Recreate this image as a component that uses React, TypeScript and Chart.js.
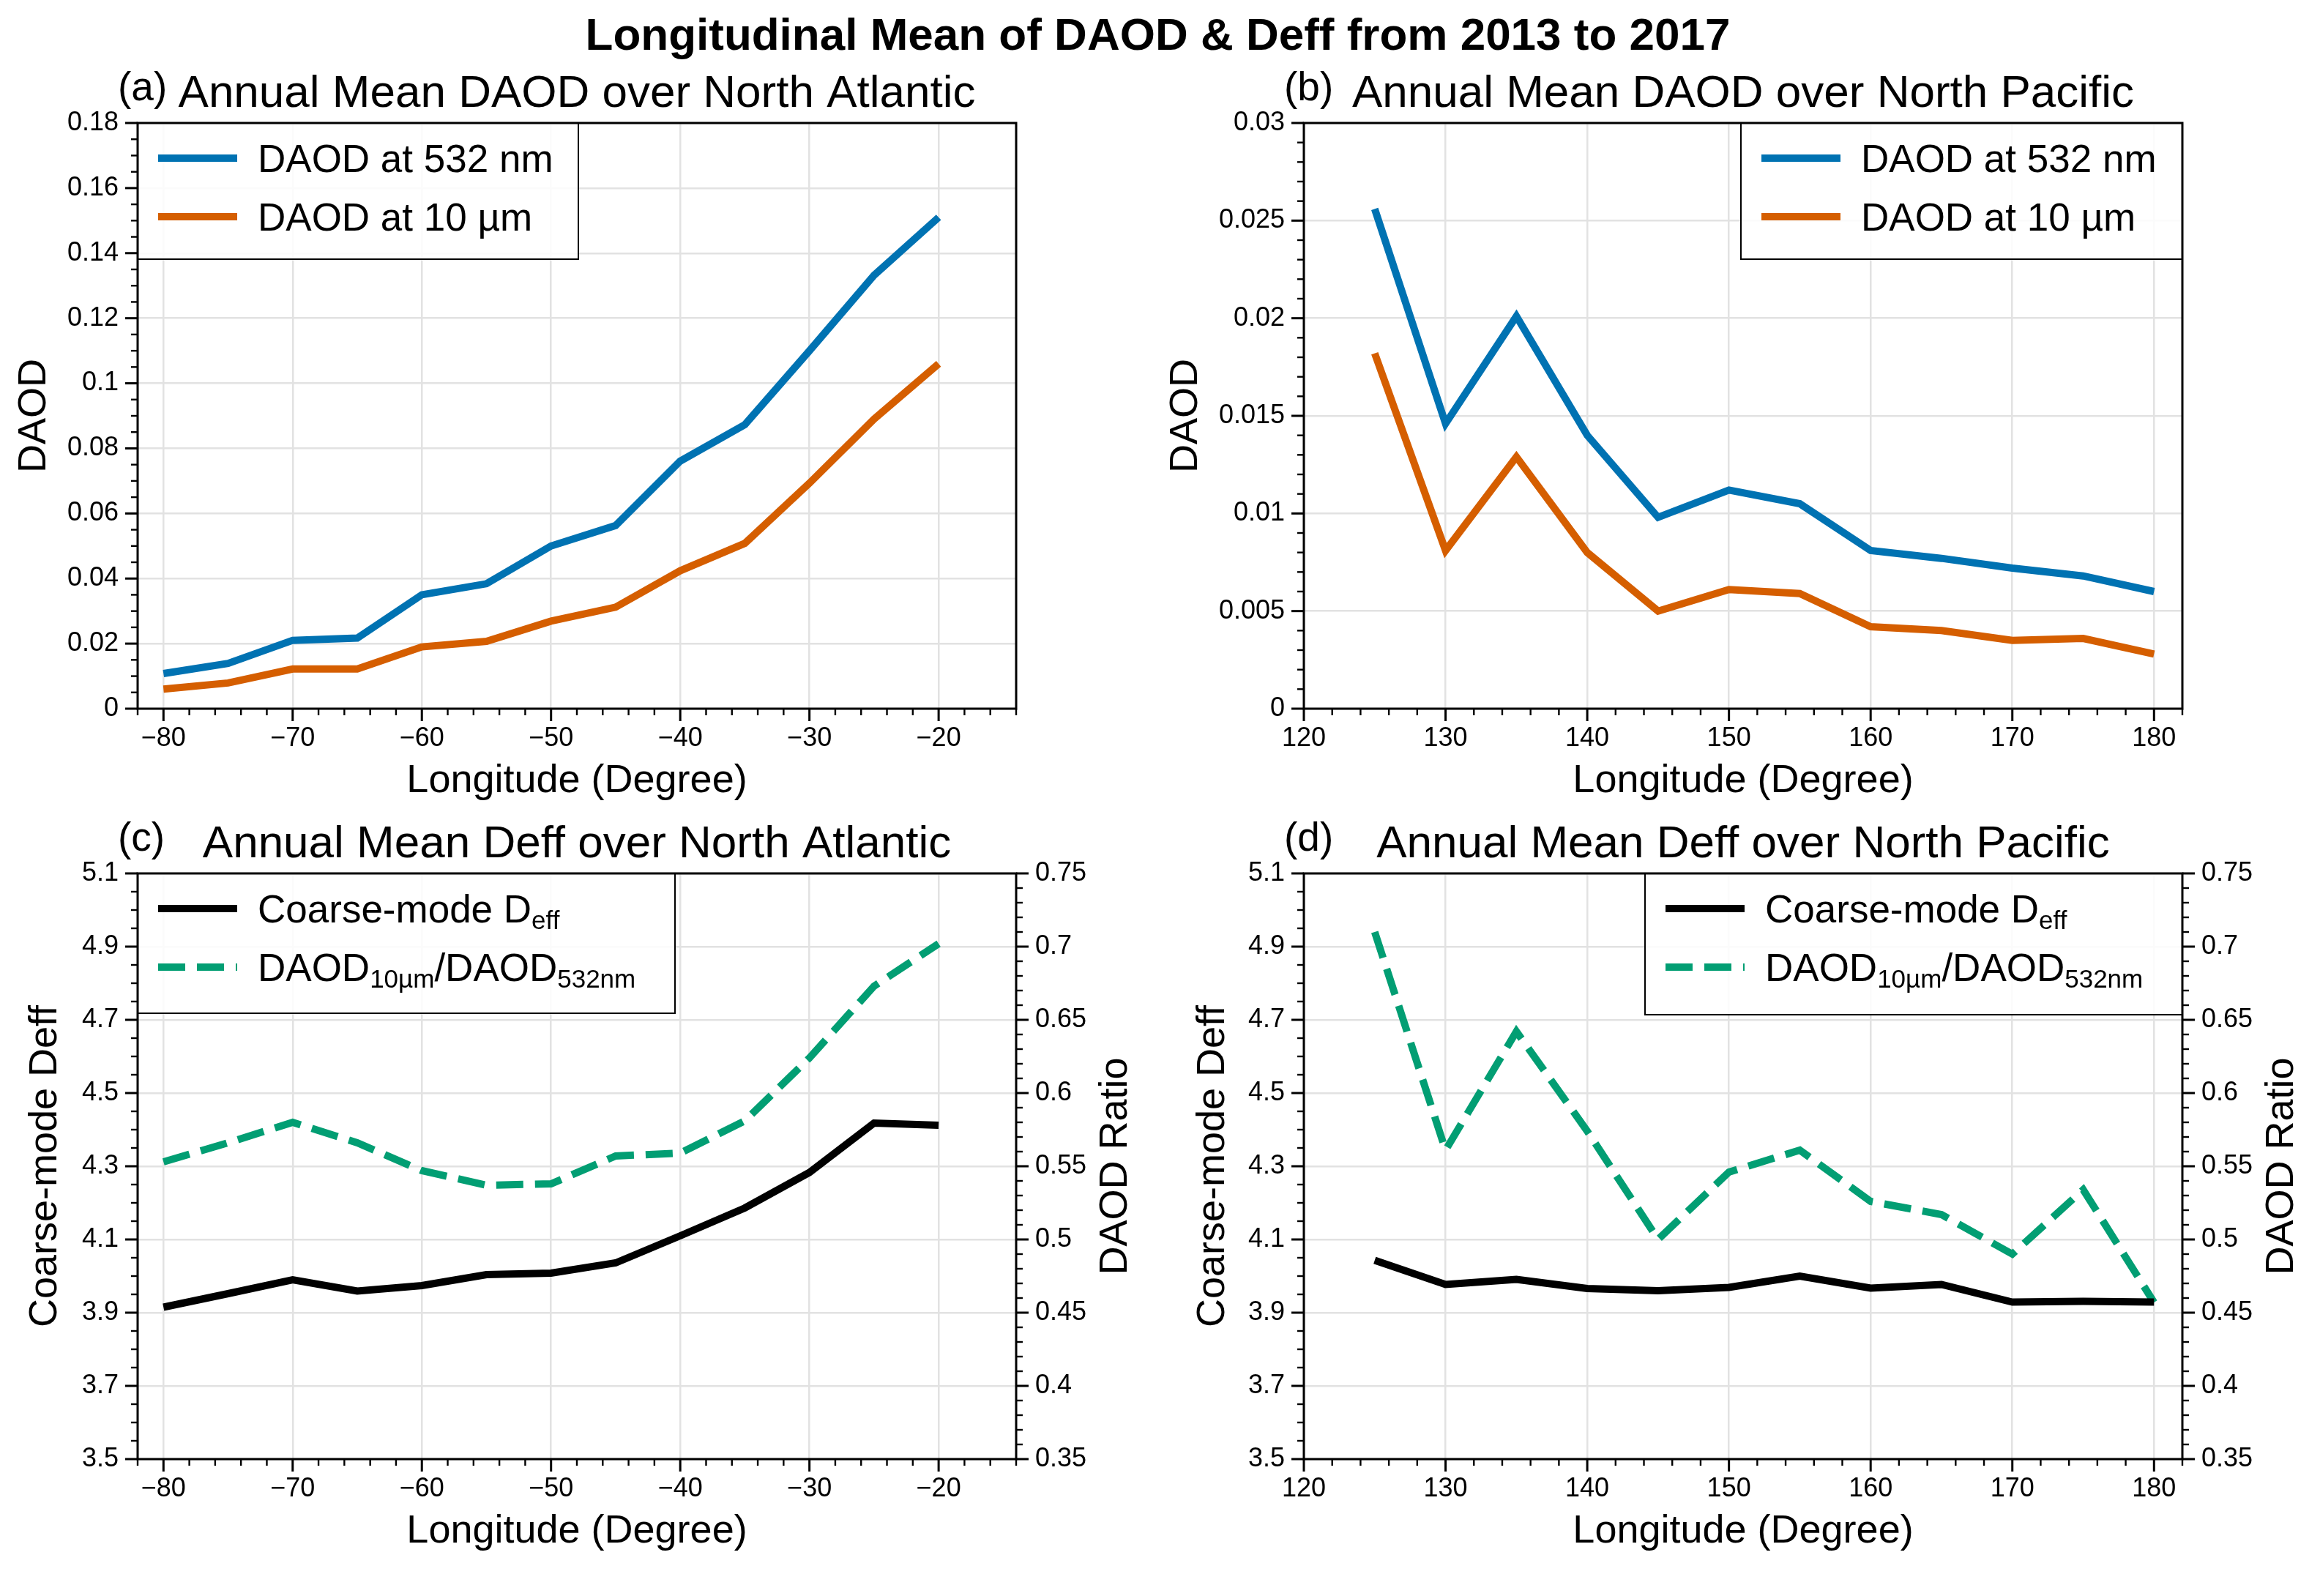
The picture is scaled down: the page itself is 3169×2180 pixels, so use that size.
import React, { useEffect, useRef } from 'react';
import { Chart, registerables } from 'chart.js';
Chart.register(...registerables);

const FONT = "'Liberation Sans', Arial, Helvetica, sans-serif";

// ---------- data ----------
const LON_ATL = [-80, -75, -70, -65, -60, -55, -50, -45, -40, -35, -30, -25, -20];
const LON_PAC = [125, 130, 135, 140, 145, 150, 155, 160, 165, 170, 175, 180];

const DAOD532_ATL = [0.0108, 0.0139, 0.0210, 0.0217, 0.0350, 0.0384, 0.0500, 0.0563, 0.0761, 0.0873, 0.1100, 0.1332, 0.1510];
const DAOD10_ATL = [0.0060, 0.0079, 0.0122, 0.0122, 0.0190, 0.0207, 0.0269, 0.0312, 0.0424, 0.0508, 0.0693, 0.0890, 0.1060];

const DAOD532_PAC = [0.0256, 0.0146, 0.0201, 0.0140, 0.0098, 0.0112, 0.0105, 0.0081, 0.0077, 0.0072, 0.0068, 0.0060];
const DAOD10_PAC = [0.0182, 0.0081, 0.0129, 0.0080, 0.0050, 0.0061, 0.0059, 0.0042, 0.0040, 0.0035, 0.0036, 0.0028];

const DEFF_ATL = [3.915, 3.952, 3.990, 3.959, 3.974, 4.004, 4.008, 4.036, 4.110, 4.186, 4.283, 4.418, 4.412];
const RATIO_ATL = [0.553, 0.566, 0.580, 0.566, 0.547, 0.537, 0.538, 0.557, 0.559, 0.581, 0.624, 0.673, 0.702];

const DEFF_PAC = [4.043, 3.977, 3.991, 3.966, 3.960, 3.969, 4.000, 3.967, 3.977, 3.929, 3.931, 3.929];
const RATIO_PAC = [0.710, 0.561, 0.642, 0.574, 0.500, 0.546, 0.561, 0.526, 0.517, 0.490, 0.534, 0.457];

// ---------- ticks ----------
const XTICKS_ATL = [-80, -70, -60, -50, -40, -30, -20];
const XLABELS_ATL = ['\u221280', '\u221270', '\u221260', '\u221250', '\u221240', '\u221230', '\u221220'];
const XTICKS_PAC = [120, 130, 140, 150, 160, 170, 180];
const XLABELS_PAC = ['120', '130', '140', '150', '160', '170', '180'];

const YTICKS_DAOD_ATL = [0, 0.02, 0.04, 0.06, 0.08, 0.1, 0.12, 0.14, 0.16, 0.18];
const YLABELS_DAOD_ATL = ['0', '0.02', '0.04', '0.06', '0.08', '0.1', '0.12', '0.14', '0.16', '0.18'];
const YTICKS_DAOD_PAC = [0, 0.005, 0.01, 0.015, 0.02, 0.025, 0.03];
const YLABELS_DAOD_PAC = ['0', '0.005', '0.01', '0.015', '0.02', '0.025', '0.03'];
const YTICKS_DEFF = [3.5, 3.7, 3.9, 4.1, 4.3, 4.5, 4.7, 4.9, 5.1];
const YLABELS_DEFF = ['3.5', '3.7', '3.9', '4.1', '4.3', '4.5', '4.7', '4.9', '5.1'];
const YTICKS_RATIO = [0.35, 0.4, 0.45, 0.5, 0.55, 0.6, 0.65, 0.7, 0.75];
const YLABELS_RATIO = ['0.35', '0.4', '0.45', '0.5', '0.55', '0.6', '0.65', '0.7', '0.75'];

// ---------- text ----------
const SUPTITLE = 'Longitudinal Mean of DAOD & Deff from 2013 to 2017';
const TITLES = [
  'Annual Mean DAOD over North Atlantic',
  'Annual Mean DAOD over North Pacific',
  'Annual Mean Deff over North Atlantic',
  'Annual Mean Deff over North Pacific',
];
const ABC = ['(a)', '(b)', '(c)', '(d)'];
const XTITLE = 'Longitude (Degree)';
type Seg = { t: string; sub?: boolean };
const LEG_532: Seg[] = [{ t: 'DAOD at 532 nm' }];
const LEG_10: Seg[] = [{ t: 'DAOD at 10 \u00b5m' }];
const LEG_DEFF: Seg[] = [{ t: 'Coarse-mode D' }, { t: 'eff', sub: true }];
const LEG_RATIO: Seg[] = [{ t: 'DAOD' }, { t: '10\u00b5m', sub: true }, { t: '/DAOD' }, { t: '532nm', sub: true }];

const BLUE = '#0072B2';
const ORANGE = '#D55E00';
const GREEN = '#029E73';
const BLACK = '#000000';
const DASH = [37, 16];

interface Series { xs: number[]; ys: number[]; color: string; dash?: number[]; axis: 'y' | 'y2'; legend: Seg[] }
interface AxisDef { min: number; max: number; ticks: number[]; labels: string[]; minor: number; title?: string; titlePad?: number }
interface PanelDef {
  idx: number;
  x: number; y: number; w: number; h: number;
  area: { L: number; T: number; R: number; B: number };
  xa: AxisDef; ya: AxisDef; y2?: AxisDef;
  series: Series[];
  legend: { align: 'left' | 'right'; w: number; h: number };
}

const PANELS: PanelDef[] = [
  {
    idx: 0, x: 0, y: 0, w: 1584, h: 1100,
    area: { L: 188, T: 168, R: 1388, B: 968 },
    xa: { min: -82, max: -14, ticks: XTICKS_ATL, labels: XLABELS_ATL, minor: 2 },
    ya: { min: 0, max: 0.18, ticks: YTICKS_DAOD_ATL, labels: YLABELS_DAOD_ATL, minor: 0.005, title: 'DAOD', titlePad: 15 },
    series: [
      { xs: LON_ATL, ys: DAOD532_ATL, color: BLUE, axis: 'y', legend: LEG_532 },
      { xs: LON_ATL, ys: DAOD10_ATL, color: ORANGE, axis: 'y', legend: LEG_10 },
    ],
    legend: { align: 'left', w: 602, h: 186 },
  },
  {
    idx: 1, x: 1584, y: 0, w: 1585, h: 1100,
    area: { L: 197, T: 168, R: 1397, B: 968 },
    xa: { min: 120, max: 182, ticks: XTICKS_PAC, labels: XLABELS_PAC, minor: 2 },
    ya: { min: 0, max: 0.03, ticks: YTICKS_DAOD_PAC, labels: YLABELS_DAOD_PAC, minor: 0.001, title: 'DAOD', titlePad: 3.6 },
    series: [
      { xs: LON_PAC, ys: DAOD532_PAC, color: BLUE, axis: 'y', legend: LEG_532 },
      { xs: LON_PAC, ys: DAOD10_PAC, color: ORANGE, axis: 'y', legend: LEG_10 },
    ],
    legend: { align: 'right', w: 603, h: 186 },
  },
  {
    idx: 2, x: 0, y: 1100, w: 1584, h: 1080,
    area: { L: 188, T: 93, R: 1388, B: 893 },
    xa: { min: -82, max: -14, ticks: XTICKS_ATL, labels: XLABELS_ATL, minor: 2 },
    ya: { min: 3.5, max: 5.1, ticks: YTICKS_DEFF, labels: YLABELS_DEFF, minor: 0.05, title: 'Coarse-mode Deff', titlePad: 29.8 },
    y2: { min: 0.35, max: 0.75, ticks: YTICKS_RATIO, labels: YLABELS_RATIO, minor: 0.01, title: 'DAOD Ratio' },
    series: [
      { xs: LON_ATL, ys: DEFF_ATL, color: BLACK, axis: 'y', legend: LEG_DEFF },
      { xs: LON_ATL, ys: RATIO_ATL, color: GREEN, dash: DASH, axis: 'y2', legend: LEG_RATIO },
    ],
    legend: { align: 'left', w: 734, h: 191 },
  },
  {
    idx: 3, x: 1584, y: 1100, w: 1585, h: 1080,
    area: { L: 197, T: 93, R: 1397, B: 893 },
    xa: { min: 120, max: 182, ticks: XTICKS_PAC, labels: XLABELS_PAC, minor: 2 },
    ya: { min: 3.5, max: 5.1, ticks: YTICKS_DEFF, labels: YLABELS_DEFF, minor: 0.05, title: 'Coarse-mode Deff', titlePad: 40.6 },
    y2: { min: 0.35, max: 0.75, ticks: YTICKS_RATIO, labels: YLABELS_RATIO, minor: 0.01, title: 'DAOD Ratio' },
    series: [
      { xs: LON_PAC, ys: DEFF_PAC, color: BLACK, axis: 'y', legend: LEG_DEFF },
      { xs: LON_PAC, ys: RATIO_PAC, color: GREEN, dash: DASH, axis: 'y2', legend: LEG_RATIO },
    ],
    legend: { align: 'right', w: 734, h: 193 },
  },
];

const TICK_FONT = 36;
const LABEL_FONT = 54;
const TITLE_FONT = 62;
const ABC_FONT = 55;
const LEG_FONT = 53;
const SUB_FONT = 35;
const GRID_COLOR = '#e2e2e2';
const X_H = 131.4;
const Y2_W = 150;

function drawTicks(ctx: CanvasRenderingContext2D, scale: any, side: 'left' | 'right' | 'bottom', minor: number, area: any) {
  const majors: number[] = scale.ticks.map((t: any) => t.value);
  const seg = (v: number, len: number, lw: number) => {
    const p = scale.getPixelForValue(v);
    ctx.lineWidth = lw;
    ctx.beginPath();
    if (side === 'bottom') { ctx.moveTo(p, area.bottom); ctx.lineTo(p, area.bottom + len); }
    else if (side === 'left') { ctx.moveTo(area.left, p); ctx.lineTo(area.left - len, p); }
    else { ctx.moveTo(area.right, p); ctx.lineTo(area.right + len, p); }
    ctx.stroke();
  };
  const n = Math.round((scale.max - scale.min) / minor);
  for (let k = 0; k <= n; k++) {
    const v = scale.min + k * minor;
    if (majors.some((m) => Math.abs(m - v) < minor * 0.01)) continue;
    seg(v, 9, 2.4);
  }
  majors.forEach((m) => seg(m, 17, 3));
}

function drawSegs(ctx: CanvasRenderingContext2D, segs: Seg[], x: number, y: number) {
  let cx = x;
  segs.forEach((s) => {
    ctx.font = `${s.sub ? SUB_FONT : LEG_FONT}px ${FONT}`;
    ctx.fillText(s.t, cx, y + (s.sub ? 9 : 0));
    cx += ctx.measureText(s.t).width;
  });
}

function decorPlugin(p: PanelDef) {
  return {
    id: 'decor' + p.idx,
    afterDraw(chart: any) {
      const ctx: CanvasRenderingContext2D = chart.ctx;
      const area = chart.chartArea;
      const L = area.left, T = area.top, R = area.right, B = area.bottom;
      ctx.save();
      // legend
      const bx = p.legend.align === 'left' ? L : R - p.legend.w;
      const by = T;
      ctx.fillStyle = 'rgba(255,255,255,0.85)';
      ctx.fillRect(bx, by, p.legend.w, p.legend.h);
      ctx.strokeStyle = '#000';
      ctx.lineWidth = 2;
      ctx.setLineDash([]);
      ctx.strokeRect(bx, by, p.legend.w, p.legend.h);
      p.series.forEach((s, i) => {
        const cy = by + 48 + i * 80;
        ctx.strokeStyle = s.color;
        ctx.lineWidth = 10;
        ctx.lineCap = 'butt';
        ctx.setLineDash(s.dash || []);
        ctx.beginPath();
        ctx.moveTo(bx + 28, cy);
        ctx.lineTo(bx + 136, cy);
        ctx.stroke();
        ctx.setLineDash([]);
        ctx.fillStyle = '#000';
        ctx.textAlign = 'left';
        ctx.textBaseline = 'alphabetic';
        drawSegs(ctx, s.legend, bx + 164, cy + 19);
      });
      // frame
      ctx.setLineDash([]);
      ctx.strokeStyle = '#000';
      ctx.lineWidth = 3;
      ctx.strokeRect(L, T, R - L, B - T);
      // ticks
      drawTicks(ctx, chart.scales.x, 'bottom', p.xa.minor, area);
      drawTicks(ctx, chart.scales.y, 'left', p.ya.minor, area);
      if (p.y2) drawTicks(ctx, chart.scales.y2, 'right', p.y2.minor, area);
      // titles
      ctx.fillStyle = '#000';
      ctx.textBaseline = 'alphabetic';
      ctx.textAlign = 'center';
      ctx.font = `${TITLE_FONT}px ${FONT}`;
      ctx.fillText(TITLES[p.idx], (L + R) / 2, T - 22);
      ctx.textAlign = 'left';
      ctx.font = `${ABC_FONT}px ${FONT}`;
      ctx.fillText(ABC[p.idx], L - 27, T - 31);
      if (p.y2 && p.y2.title) {
        ctx.translate(R + 136, (T + B) / 2);
        ctx.rotate(-Math.PI / 2);
        ctx.textAlign = 'center';
        ctx.textBaseline = 'middle';
        ctx.font = `${LABEL_FONT}px ${FONT}`;
        ctx.fillText(p.y2.title, 0, 0);
      }
      ctx.restore();
    },
  };
}

function makeChart(canvas: HTMLCanvasElement, p: PanelDef) {
  const tickFont = { size: TICK_FONT, family: FONT };
  const scales: any = {
    x: {
      type: 'linear', position: 'bottom', min: p.xa.min, max: p.xa.max,
      afterBuildTicks: (s: any) => { s.ticks = p.xa.ticks.map((v) => ({ value: v })); },
      afterFit: (s: any) => { s.height = X_H; },
      grid: { color: GRID_COLOR, lineWidth: 2.5, drawTicks: false },
      border: { display: false },
      ticks: { font: tickFont, color: '#000', padding: 19, autoSkip: false, maxRotation: 0, callback: (_v: any, i: number) => p.xa.labels[i] },
      title: { display: true, text: XTITLE, color: '#000', font: { size: LABEL_FONT, family: FONT }, padding: { top: 0, bottom: 0 } },
    },
    y: {
      type: 'linear', position: 'left', min: p.ya.min, max: p.ya.max,
      afterBuildTicks: (s: any) => { s.ticks = p.ya.ticks.map((v) => ({ value: v })); },
      afterFit: (s: any) => { s.width = p.area.L; },
      grid: { color: GRID_COLOR, lineWidth: 2.5, drawTicks: false },
      border: { display: false },
      ticks: { font: tickFont, color: '#000', padding: 26, autoSkip: false, callback: (_v: any, i: number) => p.ya.labels[i] },
      title: { display: true, text: p.ya.title, color: '#000', font: { size: LABEL_FONT, family: FONT }, padding: { top: p.ya.titlePad || 0, bottom: 0 } },
    },
  };
  if (p.y2) {
    const y2 = p.y2;
    scales.y2 = {
      type: 'linear', position: 'right', min: y2.min, max: y2.max,
      afterBuildTicks: (s: any) => { s.ticks = y2.ticks.map((v) => ({ value: v })); },
      afterFit: (s: any) => { s.width = Y2_W; },
      grid: { display: false, drawTicks: false },
      border: { display: false },
      ticks: { font: tickFont, color: '#000', padding: 26, autoSkip: false, callback: (_v: any, i: number) => y2.labels[i] },
    };
  }
  const padding = {
    left: 0,
    top: p.area.T,
    right: p.w - p.area.R - (p.y2 ? Y2_W : 0),
    bottom: p.h - p.area.B - X_H,
  };
  return new Chart(canvas, {
    type: 'line',
    data: {
      datasets: p.series.map((s) => ({
        data: s.xs.map((x, i) => ({ x, y: s.ys[i] })),
        borderColor: s.color,
        backgroundColor: s.color,
        borderWidth: 10,
        borderDash: s.dash || [],
        borderCapStyle: 'butt',
        borderJoinStyle: 'miter',
        pointRadius: 0,
        tension: 0,
        fill: false,
        yAxisID: s.axis,
      })),
    },
    options: {
      responsive: false,
      animation: false,
      devicePixelRatio: 1,
      layout: { padding },
      plugins: { legend: { display: false }, tooltip: { enabled: false }, title: { display: false } },
      scales,
    } as any,
    plugins: [decorPlugin(p)],
  } as any);
}

function Panel({ p }: { p: PanelDef }) {
  const ref = useRef<HTMLCanvasElement>(null);
  useEffect(() => {
    const chart = makeChart(ref.current as HTMLCanvasElement, p);
    return () => chart.destroy();
  }, []);
  return (
    <canvas
      ref={ref}
      width={p.w}
      height={p.h}
      style={{ position: 'absolute', left: p.x, top: p.y, width: p.w, height: p.h }}
    />
  );
}

export default function App() {
  return (
    <div style={{ position: 'fixed', left: 0, top: 0, width: 3169, height: 2180, background: '#fff', overflow: 'hidden' }}>
      {PANELS.map((p) => <Panel key={p.idx} p={p} />)}
      <div
        style={{
          position: 'absolute', left: -3, top: 15.5, width: 3169, textAlign: 'center',
          font: `bold ${TITLE_FONT}px ${FONT}`, lineHeight: `${TITLE_FONT}px`, color: '#000', whiteSpace: 'nowrap',
        }}
      >
        {SUPTITLE}
      </div>
    </div>
  );
}
